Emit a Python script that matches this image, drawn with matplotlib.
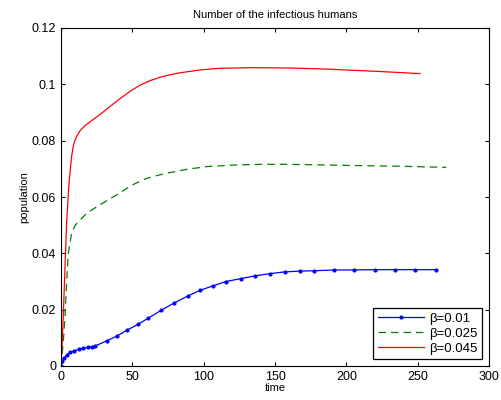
import matplotlib
matplotlib.use("Agg")
import matplotlib.pyplot as plt

# beta = 0.01 (blue, dot markers)
t_b1 = [0, 1, 2.3, 4, 6.3, 9.3, 12.6, 15.6, 19.1, 21.5, 23.8, 32, 39, 46.5, 54,
        61.2, 70.3, 79, 88.7, 97.6, 106.2, 115.6, 125.9, 136, 146.5, 156.7, 167.4,
        177, 191.5, 205.5, 219.8, 234, 248, 262.8]
y_b1 = [0, 0.0016, 0.0027, 0.0039, 0.0048, 0.0054, 0.0059, 0.0063, 0.0066, 0.0068,
        0.0071, 0.0089, 0.0106, 0.0128, 0.0148, 0.0170, 0.0198, 0.0223,
        0.0248, 0.0269, 0.0284, 0.0300, 0.0310, 0.0320, 0.0328, 0.0334, 0.0337,
        0.0338, 0.0341, 0.0341, 0.0342, 0.0342, 0.0342, 0.0342]

# beta = 0.025 (green dashed)
t_b2 = [0, 1.6, 2.8, 3.9, 5.1, 7.4, 10, 13.3, 17, 21.5, 30.8, 42.5, 48.4, 55, 60,
        71.7, 88, 102, 123, 140, 158, 181.5, 202.5, 240, 270]
y_b2 = [0, 0.0085, 0.0175, 0.0293, 0.0400, 0.0471, 0.0500, 0.0518, 0.0537, 0.0554,
        0.0583, 0.0618, 0.0639, 0.0655, 0.0666, 0.0682, 0.0698, 0.0708, 0.0714,
        0.0716, 0.0716, 0.0714, 0.0712, 0.0709, 0.0705]

# beta = 0.045 (red solid)
t_b3 = [0, 0.8, 1.6, 2.8, 3.9, 5.6, 7.4, 8.6, 9.8, 11.5, 13.3, 16.5, 20.3, 27.3,
        34.3, 41.3, 48.4, 55.4, 62.4, 69.4, 76.4, 83.4, 90.4, 97.4, 111.4, 134.5,
        160, 181.5, 200, 225.9, 251.6]
y_b3 = [0, 0.0080, 0.0175, 0.0352, 0.0506, 0.0649, 0.0743, 0.0780, 0.0802, 0.0820,
        0.0835, 0.0852, 0.0867, 0.0893, 0.0921, 0.0949, 0.0975, 0.0997, 0.1013,
        0.1025, 0.1034, 0.1041, 0.1046, 0.1051, 0.1057, 0.1059, 0.1058, 0.1055,
        0.1051, 0.1045, 0.1038]

labels = ["\u03b2=0.01", "\u03b2=0.025", "\u03b2=0.045"]

plt.rcParams["font.family"] = ["Liberation Sans", "DejaVu Sans"]
fig = plt.figure(figsize=(5.01, 4.0), dpi=100)
ax = fig.add_axes([61 / 501, 1 - 366 / 400, 428 / 501, 338 / 400])

ax.plot(t_b1, y_b1, "-", color="blue", marker=".", ms=4, lw=0.9, label=labels[0])
ax.plot(t_b2, y_b2, "--", color="green", lw=0.9, dashes=(6, 4), label=labels[1])
ax.plot(t_b3, y_b3, "-", color="red", lw=0.9, label=labels[2])

ax.set_xlim(0, 300)
ax.set_ylim(0, 0.12)
ax.set_xticks([0, 50, 100, 150, 200, 250, 300])
ax.set_yticks([0, 0.02, 0.04, 0.06, 0.08, 0.1, 0.12])
ax.set_yticklabels(["0", "0.02", "0.04", "0.06", "0.08", "0.1", "0.12"])
ax.tick_params(direction="in", top=True, right=True, labelsize=9, length=3)
ax.set_xlabel("time", fontsize=8, labelpad=0)
ax.set_ylabel("population", fontsize=8, labelpad=2)
ax.set_title("Number of the infectious humans", fontsize=8, pad=7)

leg = ax.legend(loc="lower right", fontsize=9.5, fancybox=False, framealpha=1,
                edgecolor="black", handlelength=3.5, borderaxespad=0.5,
                labelspacing=0.2, handletextpad=0.4, borderpad=0.35)
leg.get_frame().set_linewidth(0.9)

fig.savefig("out.png", dpi=100)
